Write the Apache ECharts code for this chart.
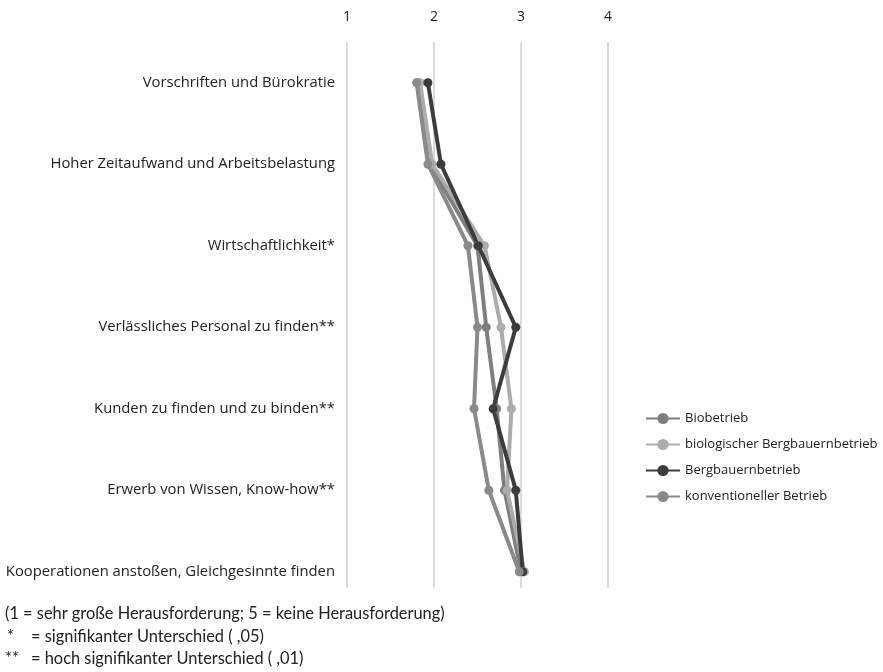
<!DOCTYPE html>
<html>
<head>
<meta charset="utf-8">
<script src="https://cdn.jsdelivr.net/npm/echarts@6/dist/echarts.min.js"></script>
<style>
  html, body { margin: 0; padding: 0; background: #fff; }
  #chart { width: 883px; height: 672px; }
</style>
</head>
<body>
<div id="chart"></div>
<script>
// Kategorien (von oben nach unten)
const categories = [
  "Vorschriften und Bürokratie",
  "Hoher Zeitaufwand und Arbeitsbelastung",
  "Wirtschaftlichkeit*",
  "Verlässliches Personal zu finden**",
  "Kunden zu finden und zu binden**",
  "Erwerb von Wissen, Know-how**",
  "Kooperationen anstoßen, Gleichgesinnte finden"
];
const ticks = [1, 2, 3, 4];

// Mittelwerte je Betriebsart
const biobetrieb = [1.82, 1.95, 2.50, 2.60, 2.72, 2.81, 3.00];
const bioBergbauern = [1.84, 1.98, 2.58, 2.77, 2.89, 2.84, 3.04];
const bergbauern = [1.93, 2.08, 2.51, 2.94, 2.68, 2.94, 3.02];
const konventionell = [1.80, 1.93, 2.39, 2.50, 2.46, 2.63, 2.98];

const seriesDefs = [
  { name: "Biobetrieb", data: biobetrieb, color: "#7f7f7f" },
  { name: "biologischer Bergbauernbetrieb", data: bioBergbauern, color: "#acacac" },
  { name: "Bergbauernbetrieb", data: bergbauern, color: "#3c3c3c" },
  { name: "konventioneller Betrieb", data: konventionell, color: "#8a8a8a" }
];

const font = "'Open Sans', sans-serif";
const noteFont = "Lato, sans-serif";
const chart = echarts.init(document.getElementById("chart"));

chart.setOption({
  animation: false,
  textStyle: { fontFamily: font },
  grid: { left: 347, right: 275, top: 42, bottom: 84 },
  legend: {
    orient: "vertical",
    left: 640,
    top: 407,
    itemWidth: 34,
    itemHeight: 14,
    itemGap: 13,
    textStyle: { fontFamily: font, fontSize: 13, color: "#222" },
    data: seriesDefs.map(s => s.name)
  },
  xAxis: {
    type: "value",
    position: "top",
    min: ticks[0],
    max: ticks[ticks.length - 1],
    interval: 1,
    axisLine: { show: false },
    axisTick: { show: false },
    axisLabel: { margin: 18, fontSize: 14, color: "#222", fontFamily: font },
    splitLine: { show: true, lineStyle: { color: "#cfcfcf", width: 1.5 } }
  },
  yAxis: {
    type: "value",
    inverse: true,
    min: 0.5,
    max: 7.2,
    axisLine: { show: false },
    axisTick: { show: false },
    splitLine: { show: false },
    axisLabel: {
      customValues: categories.map((c, i) => i + 1),
      formatter: v => categories[v - 1] || "",
      margin: 12,
      fontSize: 14.8,
      color: "#222",
      fontFamily: font
    }
  },
  series: seriesDefs.map(s => ({
    name: s.name,
    type: "line",
    data: s.data.map((v, i) => [v, i + 1]),
    symbol: "circle",
    symbolSize: 9,
    lineStyle: { width: 4, color: s.color },
    itemStyle: { color: s.color }
  })),
  graphic: [
    { type: "text", left: 5, top: 606, style: { text: "(1 = sehr große Herausforderung; 5 = keine Herausforderung)", font: "16.4px " + noteFont, fill: "#222" } },
    { type: "text", left: 7, top: 629, style: { text: "*", font: "16.4px " + noteFont, fill: "#222" } },
    { type: "text", left: 31, top: 629, style: { text: "= signifikanter Unterschied ( ,05)", font: "16.4px " + noteFont, fill: "#222" } },
    { type: "text", left: 5, top: 651, style: { text: "**", font: "16.4px " + noteFont, fill: "#222" } },
    { type: "text", left: 31, top: 651, style: { text: "= hoch signifikanter Unterschied ( ,01)", font: "16.4px " + noteFont, fill: "#222" } }
  ]
});
</script>
</body>
</html>
